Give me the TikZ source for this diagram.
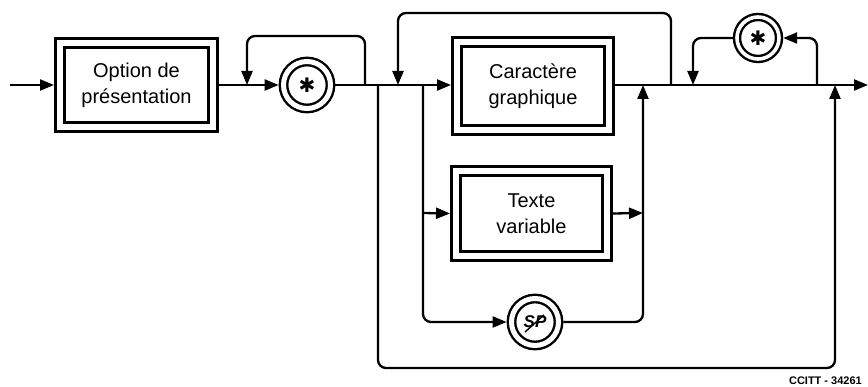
\documentclass[tikz,border=0pt]{standalone}
\usepackage{fontspec}
\setmainfont{Liberation Sans}
\newfontfamily\symfont{DejaVu Sans}
\usetikzlibrary{arrows.meta}
\tikzset{
  wire/.style={line width=2.3pt, line join=round, rounded corners=8pt},
  arr/.style={wire, -{Triangle[length=14pt,width=11pt]}},
  dbox/.style={draw, line width=2.8pt, double, double distance=6.5pt, outer sep=6pt,
    align=center, font=\fontsize{20}{26}\selectfont, inner sep=0pt},
  dcirc/.style={circle, draw, line width=2.4pt, double, double distance=5pt,
    outer sep=4.9pt, inner sep=0pt, minimum size=47pt},
  dcircs/.style={circle, draw, line width=2.4pt, double, double distance=3.6pt,
    outer sep=4.2pt, inner sep=0pt, minimum size=42pt},
  startxt/.style={font=\symfont\fontsize{20}{20}\selectfont},
  note/.style={font=\bfseries\fontsize{11}{11}\selectfont, anchor=south east, inner sep=0pt}
}
\begin{document}
\begin{tikzpicture}[x=1pt,y=-1pt]
\useasboundingbox (0,0) rectangle (868,387);
% nodes
\node[dbox, minimum width=153pt, minimum height=84pt] (opt) at (136.5,85) {Option de\\présentation};
\node[dcirc, startxt] (st1) at (307,85) {✱};
\node[dbox, minimum width=152pt, minimum height=88pt] (cg) at (533,86) {Caractère\\graphique};
\node[dbox, minimum width=151pt, minimum height=85pt] (tv) at (531.5,213.5) {Texte\\variable};
\node[dcirc, font=\bfseries\itshape\fontsize{17}{17}\selectfont] (sp) at (535,322) {SP};
\draw[line width=1.4pt] ([shift={(-10,10)}]sp.center) -- ([shift={(9,-7)}]sp.center);
\node[dcircs, startxt] (st2) at (758,38) {✱};
\node[note] (cc) at (862,385) {CCITT - 34261};
% coordinates
\coordinate (in) at (10,85);
\coordinate (out) at (868,85);
\coordinate (l1a) at (365,85);
\coordinate (l1b) at (247,85);
\coordinate (l2a) at (671,85);
\coordinate (l2b) at (398,85);
\coordinate (bra) at (423,85);
\coordinate (brb) at (423,213);
\coordinate (mrg) at (643,85);
\coordinate (mrgt) at (643,213);
\coordinate (olA) at (378,85);
\coordinate (olB) at (835,85);
\coordinate (l3a) at (817,85);
\coordinate (l3b) at (693,85);
% connectors
\draw[arr] (in) -- (opt.west);
\draw[arr] (opt.east) -- (st1.west);
\draw[arr] (st1.east) -- (cg.west |- st1.east);
\draw[arr] (cg.east |- out) -- (out);
\draw[arr] (l1a) -- (365,36) -- (247,36) -- (l1b);
\draw[arr] (l2a) -- (671,13) -- (398,13) -- (l2b);
\draw[arr] (bra) -- (423,322) -- (sp.west);
\draw[arr] (brb) -- (tv.west);
\draw[arr] (tv.east) -- (mrgt);
\draw[arr] (sp.east) -- (643,322) -- (mrg);
\draw[arr] (olA) -- (378,368) -- (835,368) -- (olB);
\draw[arr] (l3a) -- (817,38) -- (st2.east);
\draw[arr] (st2.west) -- (693,38) -- (l3b);
\end{tikzpicture}
\end{document}
